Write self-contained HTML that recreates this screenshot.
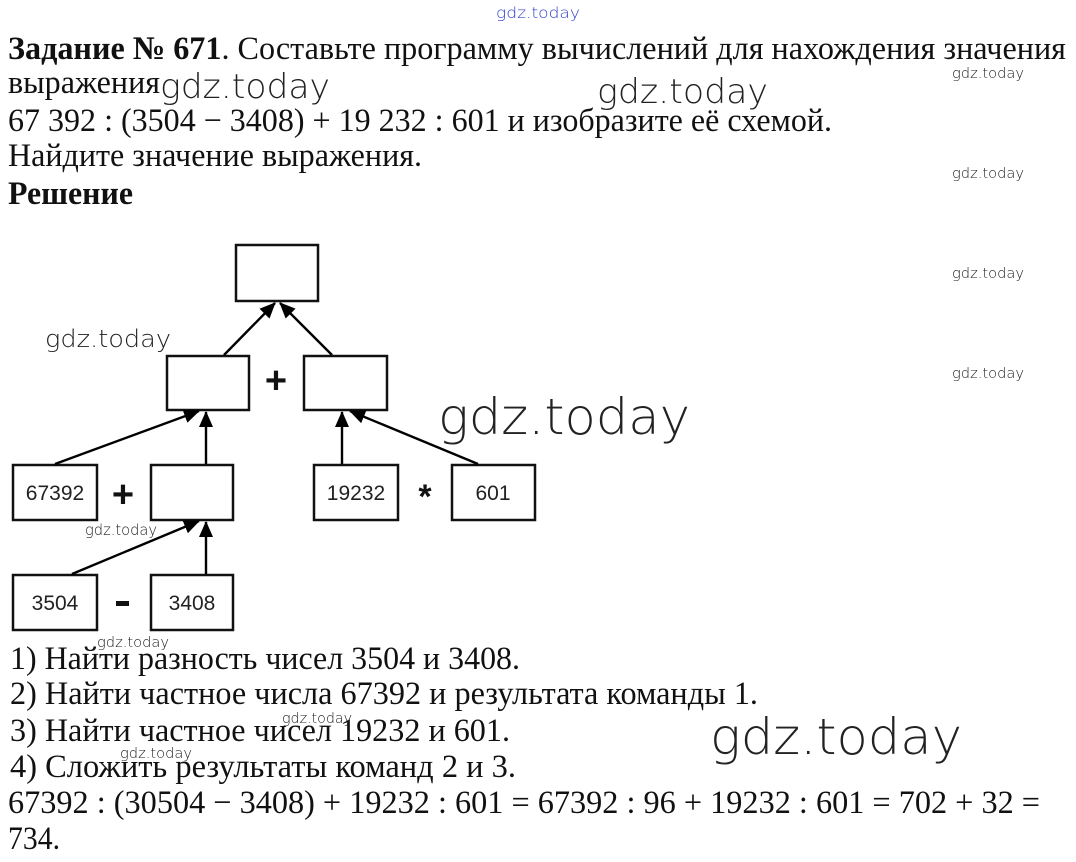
<!DOCTYPE html>
<html><head><meta charset="utf-8"><style>
html,body{margin:0;padding:0;background:#fff;}
svg{display:block;}
.t{font-family:"Liberation Serif","Noto Serif CJK SC",serif;font-size:33px;fill:#111;}
.b{font-weight:bold;}
.n{font-family:"Liberation Sans",sans-serif;font-size:21px;fill:#222;}
.w{font-family:"DejaVu Sans","Liberation Sans",sans-serif;font-weight:200;fill:#222;}
.op{font-family:"Liberation Sans",sans-serif;font-weight:bold;fill:#111;}
</style></head><body>
<svg width="1076" height="862" viewBox="0 0 1076 862" xmlns="http://www.w3.org/2000/svg">
<defs>
<marker id="ah" viewBox="0 0 16 14" markerWidth="16" markerHeight="14" refX="15" refY="7" orient="auto" markerUnits="userSpaceOnUse"><path d="M0,0 L16,7 L0,14 Z" fill="#000"/></marker></defs>

<text class="w" x="496" y="18" font-size="15" style="fill:#3344cc" textLength="84" lengthAdjust="spacingAndGlyphs">gdz.today</text>

<text class="t" x="8" y="59" textLength="1058" lengthAdjust="spacingAndGlyphs"><tspan class="b">Задание № 671</tspan>. Составьте программу вычислений для нахождения значения</text>
<text class="t" x="8" y="93" textLength="152" lengthAdjust="spacingAndGlyphs">выражения</text>
<text class="t" x="8" y="131" textLength="824" lengthAdjust="spacingAndGlyphs">67 392 : (3504 − 3408) + 19 232 : 601 и изобразите её схемой.</text>
<text class="t" x="8" y="166" textLength="414" lengthAdjust="spacingAndGlyphs">Найдите значение выражения.</text>
<text class="t b" x="8" y="204" textLength="125" lengthAdjust="spacingAndGlyphs">Решение</text>

<text class="w" x="160" y="98" font-size="34" textLength="170" lengthAdjust="spacingAndGlyphs">gdz.today</text>
<text class="w" x="597" y="103" font-size="34" textLength="171" lengthAdjust="spacingAndGlyphs">gdz.today</text>
<text class="w" x="952" y="78" font-size="14" textLength="72" lengthAdjust="spacingAndGlyphs">gdz.today</text>
<text class="w" x="952" y="178" font-size="14" textLength="72" lengthAdjust="spacingAndGlyphs">gdz.today</text>
<text class="w" x="952" y="278" font-size="14" textLength="72" lengthAdjust="spacingAndGlyphs">gdz.today</text>
<text class="w" x="952" y="378" font-size="14" textLength="72" lengthAdjust="spacingAndGlyphs">gdz.today</text>
<text class="w" x="45" y="347" font-size="24" textLength="126" lengthAdjust="spacingAndGlyphs">gdz.today</text>
<text class="w" x="438" y="434" font-size="50" textLength="252" lengthAdjust="spacingAndGlyphs">gdz.today</text>
<text class="w" x="85" y="535" font-size="15" textLength="72" lengthAdjust="spacingAndGlyphs">gdz.today</text>

<g fill="#fff" stroke="#111" stroke-width="2.5">
<rect x="236" y="245" width="82" height="56"/>
<rect x="167" y="356" width="82" height="54"/>
<rect x="304" y="356" width="83" height="54"/>
<rect x="13" y="465" width="84" height="55"/>
<rect x="151" y="465" width="82" height="55"/>
<rect x="314" y="465" width="84" height="55"/>
<rect x="452" y="465" width="83" height="55"/>
<rect x="13" y="575" width="84" height="55"/>
<rect x="151" y="575" width="82" height="55"/>
</g>
<g stroke="#000" stroke-width="2.4" marker-end="url(#ah)">
<line x1="224" y1="355" x2="275" y2="303"/>
<line x1="332" y1="355" x2="280" y2="303"/>
<line x1="55" y1="464" x2="199" y2="411"/>
<line x1="206" y1="464" x2="206" y2="412"/>
<line x1="342" y1="464" x2="342" y2="412"/>
<line x1="478" y1="464" x2="350" y2="411"/>
<line x1="72" y1="574" x2="199" y2="521"/>
<line x1="206" y1="574" x2="206" y2="522"/>
</g>
<text class="n" x="55" y="500" text-anchor="middle">67392</text>
<text class="n" x="356" y="500" text-anchor="middle">19232</text>
<text class="n" x="493" y="500" text-anchor="middle">601</text>
<text class="n" x="55" y="610" text-anchor="middle">3504</text>
<text class="n" x="192" y="610" text-anchor="middle">3408</text>
<text class="op" x="276" y="393" font-size="38" text-anchor="middle">+</text>
<text class="op" x="123" y="507" font-size="38" text-anchor="middle">+</text>
<text class="op" x="425" y="508" font-size="34" text-anchor="middle">*</text>
<rect x="116" y="601" width="13" height="5" fill="#111"/>

<text class="t" x="10" y="669" textLength="510" lengthAdjust="spacingAndGlyphs">1) Найти разность чисел 3504 и 3408.</text>
<text class="t" x="10" y="704" textLength="748" lengthAdjust="spacingAndGlyphs">2) Найти частное числа 67392 и результата команды 1.</text>
<text class="t" x="10" y="741" textLength="500" lengthAdjust="spacingAndGlyphs">3) Найти частное чисел 19232 и 601.</text>
<text class="t" x="10" y="777" textLength="506" lengthAdjust="spacingAndGlyphs">4) Сложить результаты команд 2 и 3.</text>
<text class="t" x="8" y="813" textLength="1032" lengthAdjust="spacingAndGlyphs">67392 : (30504 − 3408) + 19232 : 601 = 67392 : 96 + 19232 : 601 = 702 + 32 =</text>
<text class="t" x="8" y="849" textLength="52" lengthAdjust="spacingAndGlyphs">734.</text>

<text class="w" x="97" y="647" font-size="14" textLength="72" lengthAdjust="spacingAndGlyphs">gdz.today</text>
<text class="w" x="282" y="723" font-size="14" textLength="70" lengthAdjust="spacingAndGlyphs">gdz.today</text>
<text class="w" x="120" y="758" font-size="14" textLength="72" lengthAdjust="spacingAndGlyphs">gdz.today</text>
<text class="w" x="710" y="754" font-size="50" textLength="252" lengthAdjust="spacingAndGlyphs">gdz.today</text>
</svg>
</body></html>
